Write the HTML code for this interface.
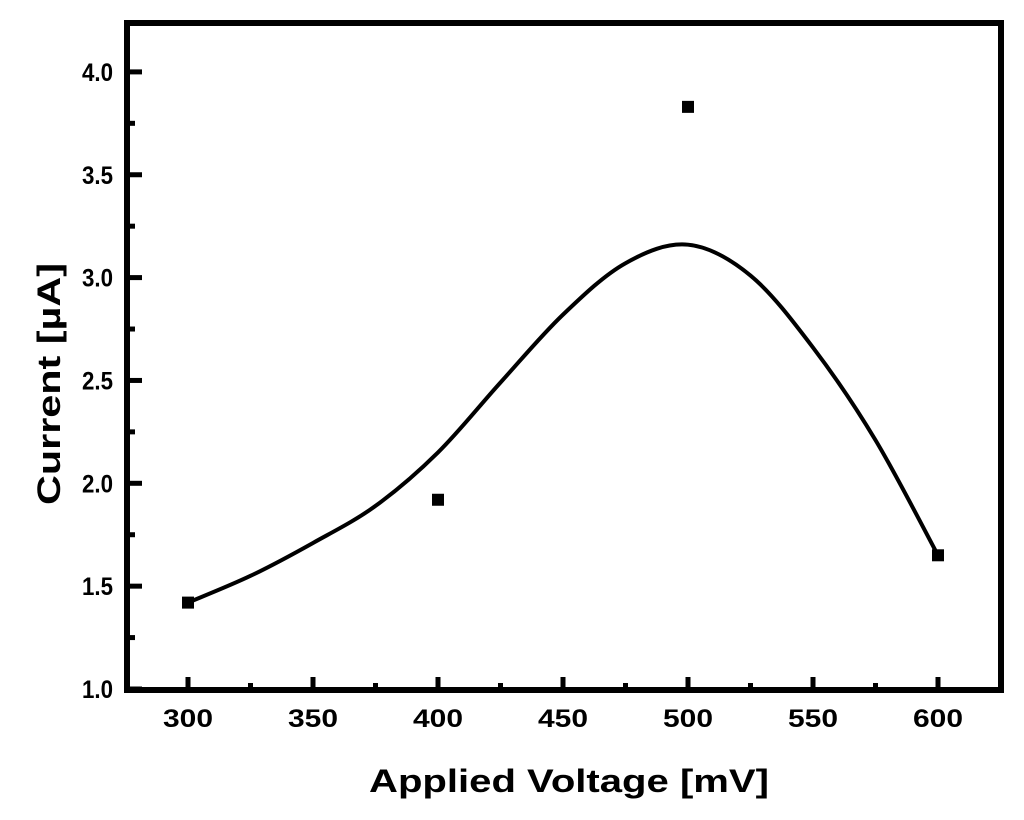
<!DOCTYPE html>
<html><head><meta charset="utf-8"><style>
html,body{margin:0;padding:0;background:#fff;}
svg{display:block;font-family:"Liberation Sans",Arial,sans-serif;font-weight:bold;}
</style></head><body>
<svg id="chart" width="1024" height="820" viewBox="0 0 1024 820">
<g id="ticks"></g>
<path id="curve" fill="none" stroke="#000" stroke-width="4"/>
<g id="points"></g>
<rect x="127" y="23" width="874" height="667" fill="none" stroke="#000" stroke-width="6"/>
<text x="369" y="792" font-size="32" textLength="400" lengthAdjust="spacingAndGlyphs">Applied Voltage [mV]</text>
<text transform="translate(60,505) rotate(-90)" font-size="32" textLength="242" lengthAdjust="spacingAndGlyphs">Current [µA]</text>
</svg>
<script>
const xTicks=[300,350,400,450,500,550,600];
const yTicks=[1.0,1.5,2.0,2.5,3.0,3.5,4.0];
const pointX=[300,400,500,600];
const pointY=[1.42,1.92,3.83,1.65];
const curveX=[300,325,350,375,400,425,450,475,500,525,550,575,600];
const curveY=[1.42,1.55,1.71,1.89,2.15,2.49,2.82,3.07,3.16,3.01,2.66,2.21,1.65];
const sx=v=>188+(v-300)*2.5;
const sy=v=>689-(v-1)*205.7;
const NS="http://www.w3.org/2000/svg";
const tg=document.getElementById('ticks');
function mk(tag,attrs,parent){const e=document.createElementNS(NS,tag);for(const k in attrs)e.setAttribute(k,attrs[k]);parent.appendChild(e);return e;}
xTicks.forEach((v,i)=>{
  const l=mk('line',{x1:sx(v),x2:sx(v),y1:690,y2:677,stroke:'#000','stroke-width':5},tg);
  
  
  if(i<xTicks.length-1){const m=mk('line',{x1:sx(v+25),x2:sx(v+25),y1:690,y2:683,stroke:'#000','stroke-width':5},tg);
    
    }
  const t=mk('text',{x:sx(v)-25,y:727,'font-size':25,textLength:50,lengthAdjust:'spacingAndGlyphs'},tg);t.textContent=v;
  
  
});
yTicks.forEach((v,i)=>{
  const l=mk('line',{x1:127,x2:142,y1:sy(v),y2:sy(v),stroke:'#000','stroke-width':5},tg);
  
  
  if(i<yTicks.length-1){const m=mk('line',{x1:127,x2:135,y1:sy(v+0.25),y2:sy(v+0.25),stroke:'#000','stroke-width':5},tg);
    
    }
  const t=mk('text',{x:82,y:sy(v)+9,'font-size':25,textLength:31,lengthAdjust:'spacingAndGlyphs'},tg);t.textContent=v.toFixed(1);
  
  
});
const P=curveX.map((x,i)=>[sx(x),sy(curveY[i])]);
let d='M'+P[0][0]+','+P[0][1];
for(let i=0;i<P.length-1;i++){
  const p0=P[Math.max(i-1,0)],p1=P[i],p2=P[i+1],p3=P[Math.min(i+2,P.length-1)];
  const c1=[p1[0]+(p2[0]-p0[0])/6,p1[1]+(p2[1]-p0[1])/6];
  const c2=[p2[0]-(p3[0]-p1[0])/6,p2[1]-(p3[1]-p1[1])/6];
  d+=' C'+c1+' '+c2+' '+p2;
}
document.getElementById('curve').setAttribute('d',d);
const pg=document.getElementById('points');
pointX.forEach((x,i)=>{
  const r=mk('rect',{x:sx(x)-6,y:sy(pointY[i])-6,width:12,height:12,fill:'#000'},pg);
  
  
});
</script>
</body></html>
